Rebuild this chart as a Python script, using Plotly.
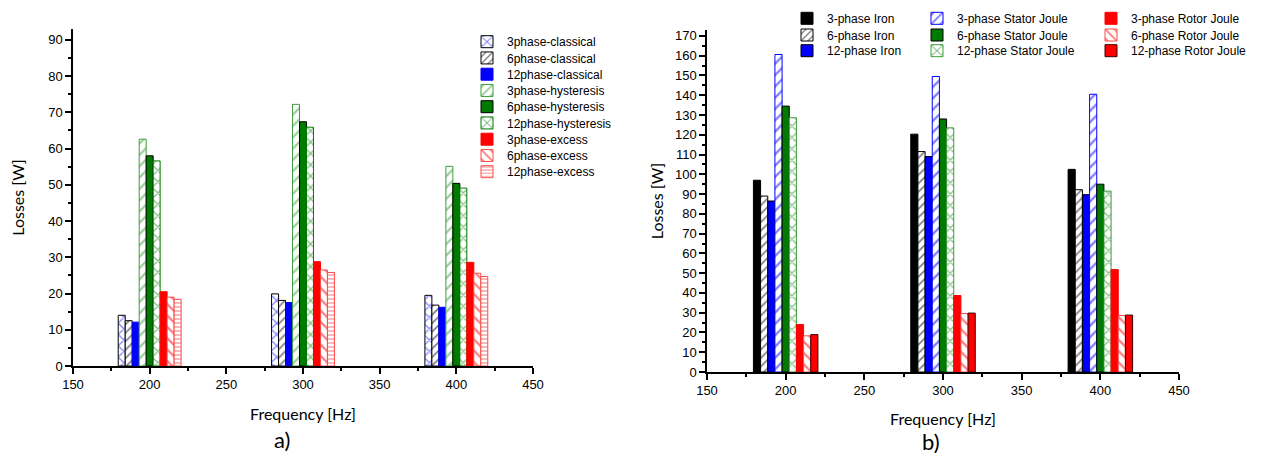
import plotly.graph_objects as go

# ---------------- data ----------------
freqs = [200, 300, 400]

# a) loss components [W]
classical_3 = [14.0, 19.9, 19.5]
classical_6 = [12.5, 18.1, 16.8]
classical_12 = [12.1, 17.5, 16.2]
hysteresis_3 = [62.6, 72.2, 55.1]
hysteresis_6 = [58.0, 67.4, 50.4]
hysteresis_12 = [56.6, 65.9, 49.1]
excess_3 = [20.5, 28.8, 28.6]
excess_6 = [19.0, 26.5, 25.6]
excess_12 = [18.4, 25.8, 24.7]

names_a = ["3phase-classical", "6phase-classical", "12phase-classical",
           "3phase-hysteresis", "6phase-hysteresis", "12phase-hysteresis",
           "3phase-excess", "6phase-excess", "12phase-excess"]
values_a = [classical_3, classical_6, classical_12,
            hysteresis_3, hysteresis_6, hysteresis_12,
            excess_3, excess_6, excess_12]

# b) total losses [W]
iron_3 = [97.0, 120.3, 102.5]
iron_6 = [89.0, 111.5, 92.2]
iron_12 = [86.5, 109.0, 89.7]
stator_3 = [160.6, 149.5, 140.5]
stator_6 = [134.5, 128.0, 95.0]
stator_12 = [128.6, 123.5, 91.5]
rotor_3 = [24.0, 38.7, 51.8]
rotor_6 = [18.3, 29.6, 28.6]
rotor_12 = [18.9, 29.8, 28.8]

names_b = ["3-phase Iron", "6-phase Iron", "12-phase Iron",
           "3-phase Stator Joule", "6-phase Stator Joule", "12-phase Stator Joule",
           "3-phase Rotor Joule", "6-phase Rotor Joule", "12-phase Rotor Joule"]
values_b = [iron_3, iron_6, iron_12,
            stator_3, stator_6, stator_12,
            rotor_3, rotor_6, rotor_12]

# ---------------- styles ----------------
BLUE, GREEN, RED, BLACK = "#0000FF", "#007A00", "#FF0000", "#000000"
LGREEN, LRED = "#3C9E3C", "#FF4A4A"
# (fill, pattern shape, pattern colour, outline colour, pattern size)
styles_a = [
    ("white", "x", BLUE, BLACK, 8),
    ("white", "/", BLACK, BLACK, 6),
    (BLUE, "", None, BLUE, 8),
    ("white", "/", LGREEN, LGREEN, 8),
    (GREEN, "", None, BLACK, 8),
    ("white", "x", GREEN, GREEN, 8),
    (RED, "", None, RED, 8),
    ("white", "\\", RED, LRED, 8),
    ("white", "-", RED, LRED, 4),
]
styles_b = [
    (BLACK, "", None, BLACK, 8),
    ("white", "/", BLACK, BLACK, 6),
    (BLUE, "", None, BLACK, 8),
    ("white", "/", BLUE, BLUE, 8),
    (GREEN, "", None, BLACK, 8),
    ("white", "x", GREEN, LGREEN, 8),
    (RED, "", None, RED, 8),
    ("white", "\\", RED, LRED, 8),
    (RED, "", None, "#3A0000", 8),
]

W, H = 1273, 455
TICKFONT = dict(family="Liberation Sans, Arial", size=13, color="black")
TITLEFONT = dict(family="Lato, Open Sans", size=16, color="black")
LEGFONT = dict(family="Liberation Sans, Arial", size=12, color="black")

fig = go.Figure()

# legend placement (pixel text-left, row-centre)
legpos_a = [(509, 41.7 + i * 16.25) for i in range(9)]
legpos_b = []
for col_x in (829, 959, 1133):
    for r in (18.3, 35.0, 50.7):
        legpos_b.append((col_x, r))

legend_layouts = {}
k = 0


def add_set(names, values, styles, positions, xa, ya):
    global k
    for name, vals, st, pos in zip(names, values, styles, positions):
        k += 1
        lkey = "legend" if k == 1 else f"legend{k}"
        fill, shape, fg, outline, psize = st
        marker = dict(color=fill, line=dict(color=outline, width=1))
        if shape:
            marker["pattern"] = dict(shape=shape, fgcolor=fg, bgcolor="white",
                                     size=psize, solidity=0.28, fillmode="overlay")
        fig.add_trace(go.Bar(x=freqs, y=vals, name=name, marker=marker,
                             xaxis=xa, yaxis=ya, legend=lkey))
        legend_layouts[lkey] = dict(
            x=(pos[0] - 42) / W, y=1 - pos[1] / H, xanchor="left", yanchor="middle",
            bgcolor="rgba(0,0,0,0)", borderwidth=0, font=LEGFONT,
            itemwidth=30, tracegroupgap=0)


add_set(names_a, values_a, styles_a, legpos_a, "x", "y")
add_set(names_b, values_b, styles_b, legpos_b, "x2", "y2")


def xax(domain, standoff):
    return dict(domain=domain, range=[150, 450], tick0=150, dtick=50,
                showline=True, linecolor="black", linewidth=1.5,
                ticks="outside", ticklen=6, tickwidth=1.5, tickcolor="black",
                minor=dict(ticks="outside", ticklen=3, dtick=25, tick0=150,
                           tickwidth=1.5, tickcolor="black", showgrid=False),
                showgrid=False, zeroline=False, tickfont=TICKFONT,
                title=dict(text="Frequency [Hz]", font=TITLEFONT, standoff=standoff),
                automargin=False)


def yax(domain, top, anchor, standoff):
    return dict(domain=domain, range=[0, top], tick0=0, dtick=10, anchor=anchor,
                showline=True, linecolor="black", linewidth=1.5,
                ticks="outside", ticklen=6, tickwidth=1.5, tickcolor="black",
                minor=dict(ticks="outside", ticklen=3, dtick=5, tick0=0,
                           tickwidth=1.5, tickcolor="black", showgrid=False),
                showgrid=False, zeroline=False, tickfont=TICKFONT,
                title=dict(text="Losses [W]", font=TITLEFONT, standoff=standoff),
                automargin=False)


fig.update_layout(
    width=W, height=H,
    margin=dict(l=0, r=0, t=0, b=0),
    paper_bgcolor="white", plot_bgcolor="white",
    barmode="group", bargap=0.59, bargroupgap=0,
    showlegend=True,
    xaxis=dict(xax([73 / W, 533 / W], 17), anchor="y"),
    yaxis=yax([1 - 366 / H, 1 - 29 / H], 93, "x", 20),
    xaxis2=dict(xax([707 / W, 1179 / W], 16), anchor="y2"),
    yaxis2=yax([1 - 372 / H, 1 - 30 / H], 173, "x2", 7),
    annotations=[
        dict(text="a)", x=282 / W, y=1 - 439 / H, xref="paper", yref="paper",
             showarrow=False, font=dict(family="Lato, Open Sans", size=22, color="black"),
             xanchor="center", yanchor="middle"),
        dict(text="b)", x=931 / W, y=1 - 441 / H, xref="paper", yref="paper",
             showarrow=False, font=dict(family="Lato, Open Sans", size=22, color="black"),
             xanchor="center", yanchor="middle"),
    ],
    **legend_layouts,
)

fig.write_html(
    "out.html",
    config={"displayModeBar": False},
    post_script="document.body.style.margin='0px';document.body.style.overflow='hidden';",
)
